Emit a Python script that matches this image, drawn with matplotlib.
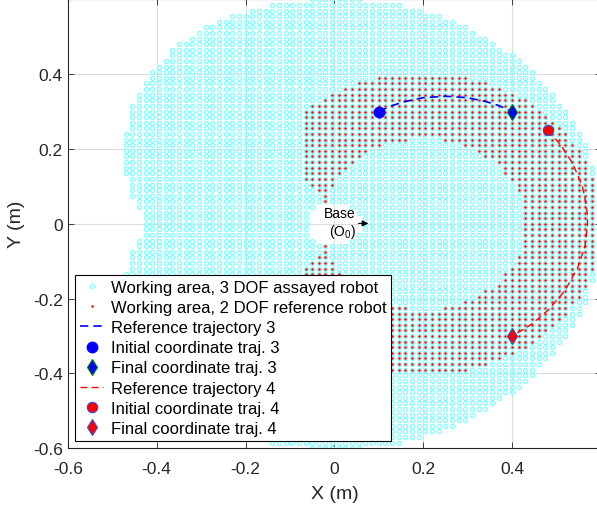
import numpy as np
import matplotlib
matplotlib.use('Agg')
import matplotlib.pyplot as plt
from matplotlib.path import Path

plt.rcParams['font.family'] = ['Liberation Sans', 'DejaVu Sans']
plt.rcParams['mathtext.fontset'] = 'custom'
plt.rcParams['mathtext.rm'] = 'Liberation Sans'
plt.rcParams['axes.unicode_minus'] = False

# sampling grid of the workspace plots (m)
step = 0.015
grid_x = 0.4 + step * np.arange(-67, 14)
grid_y = step * np.arange(-40, 41)

# 3 DOF assayed robot: outer reach, base hole, left limit (upper half, mirrored)
r_reach3 = 0.603
r_base_hole = 0.06
left_edge_y = [0.60, 0.55, 0.515, 0.50, 0.485, 0.47, 0.44, 0.425, 0.41, 0.38,
               0.35, 0.32, 0.245, 0.125, 0.112, 0.065, 0.05, 0.035, 0.02, 0.0]
left_edge_x = [-0.25, -0.29, -0.305, -0.32, -0.35, -0.365, -0.38, -0.395, -0.41, -0.425,
               -0.44, -0.455, -0.47, -0.473, -0.458, -0.458, -0.443, -0.443, -0.427, -0.427]

# 2 DOF reference robot: ring around (0.2, 0), cut on the left and near the base
ring_center = (0.2, 0.0)
ring_r_in = 0.228
ring_r_out = 0.403
ring_x_min = -0.072
tip_cut_x = [-0.09, -0.08, -0.045, -0.02, -0.02, -0.045, -0.08, -0.09]
tip_cut_y = [0.13, 0.13, 0.10, 0.065, -0.065, -0.10, -0.13, -0.13]

# reference trajectories
traj3_x = [0.10, 0.13, 0.16, 0.20, 0.25, 0.30, 0.34, 0.37, 0.40]
traj3_y = [0.300, 0.316, 0.327, 0.337, 0.341, 0.337, 0.327, 0.316, 0.300]
traj4_x = [0.480, 0.510, 0.537, 0.558, 0.568, 0.570, 0.564, 0.547, 0.518, 0.482, 0.442, 0.400]
traj4_y = [0.250, 0.210, 0.160, 0.100, 0.045, 0.000, -0.060, -0.120, -0.180, -0.230, -0.270, -0.300]
start3, end3 = (0.10, 0.30), (0.40, 0.30)
start4, end4 = (0.48, 0.25), (0.40, -0.30)

X, Y = np.meshgrid(grid_x, grid_y)
X = X.ravel()
Y = Y.ravel()
pts = np.column_stack([X, Y])
R = np.hypot(X, Y)

verts = [(1.0, 1.0)] + list(zip(left_edge_x, left_edge_y)) \
    + list(zip(left_edge_x[::-1], [-v for v in left_edge_y[::-1]])) + [(1.0, -1.0)]
inside_left = Path(verts).contains_points(pts)
mask3 = (R <= r_reach3) & (R >= r_base_hole) & inside_left

D = np.hypot(X - ring_center[0], Y - ring_center[1])
in_tip = Path(list(zip(tip_cut_x, tip_cut_y))).contains_points(pts)
mask2 = (D >= ring_r_in) & (D <= ring_r_out) & (X >= ring_x_min) & ~in_tip

fig = plt.figure(figsize=(5.97, 5.06), dpi=100)
ax = fig.add_axes([0.1136, 0.1121, 0.893, 0.8873])
ax.set_axisbelow(True)

ax.plot(X[mask3], Y[mask3], 'o', ms=2.9, mfc='none', mec='#7FFFFF', mew=0.9, ls='none',
        label='Working area, 3 DOF assayed robot')
ax.plot(X[mask2], Y[mask2], 'o', ms=1.8, mfc='red', mec='none', ls='none',
        label='Working area, 2 DOF reference robot')
ax.plot(traj3_x, traj3_y, '--', color='blue', lw=1.2, dashes=(5, 3),
        label='Reference trajectory 3')
ax.plot(*start3, 'o', ms=7.5, mfc='blue', mec='blue', ls='none',
        label='Initial coordinate traj. 3')
ax.plot(*end3, 'd', ms=8, mfc='blue', mec='green', mew=0.8, ls='none',
        label='Final coordinate traj. 3')
ax.plot(traj4_x, traj4_y, '--', color='red', lw=1.0, dashes=(5, 3),
        label='Reference trajectory 4')
ax.plot(*start4, 'o', ms=7.5, mfc='red', mec='#3050D0', mew=0.8, ls='none',
        label='Initial coordinate traj. 4')
ax.plot(*end4, 'd', ms=8, mfc='red', mec='#3050D0', mew=0.8, ls='none',
        label='Final coordinate traj. 4')

ax.text(0.013, 0.03, 'Base', ha='center', va='center', fontsize=10)
ax.text(0.018, -0.019, '(O$_{0}$)', ha='center', va='center', fontsize=10)
ax.annotate('', xy=(0.083, 0.001), xytext=(0.048, 0.001),
            arrowprops=dict(arrowstyle='-|>', color='black', lw=0.8, mutation_scale=9))

ax.set_xlim(-0.6, 0.6)
ax.set_ylim(-0.6, 0.6)
ticks = [-0.6, -0.4, -0.2, 0.0, 0.2, 0.4]
labels = ['-0.6', '-0.4', '-0.2', '0', '0.2', '0.4']
ax.set_xticks(ticks, labels)
ax.set_yticks(ticks, labels)
ax.tick_params(direction='in', length=4, width=0.6, top=True, right=True,
               labelsize=12.5, colors='#262626')
ax.tick_params(axis='x', pad=9)
ax.grid(True, color='#DEDEDE', lw=0.8)
for s in ax.spines.values():
    s.set_color('#262626')
    s.set_linewidth(0.8)

ax.set_xlabel('X (m)', fontsize=14, color='#262626', labelpad=7)
ax.set_ylabel('Y (m)', fontsize=14, color='#262626', labelpad=6)

leg = ax.legend(loc='lower left', bbox_to_anchor=(75 / 597, 64 / 506),
                bbox_transform=fig.transFigure, borderaxespad=0, fontsize=12,
                frameon=True, fancybox=False, framealpha=1, edgecolor='black',
                labelspacing=0.31, handlelength=1.4, handletextpad=0.45,
                borderpad=0.3, markerscale=1.0)
leg.get_frame().set_linewidth(0.8)

fig.savefig('out.png', dpi=100)
